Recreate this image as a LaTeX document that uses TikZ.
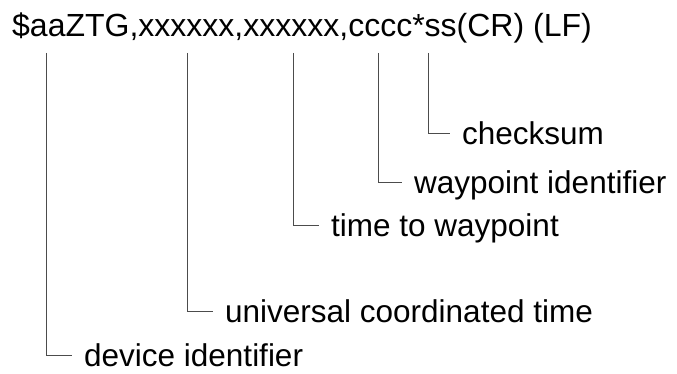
\documentclass[tikz,border=0pt]{standalone}
\usepackage{fontspec}
\setmainfont{Liberation Sans}
\usetikzlibrary{positioning}

\begin{document}
\begin{tikzpicture}[x=1pt, y=-1pt,
    lead/.style={draw=black!70, line width=0.9pt},
    lbl/.style={anchor=base west, inner xsep=12pt, inner ysep=0pt,
                text height=22pt, text depth=0pt,
                font=\fontsize{31.5}{38}\selectfont}]
  \useasboundingbox (0,0) rectangle (677,374);
  % Sentence
  \node[lbl, inner xsep=0pt, anchor=base west,
        font=\fontsize{32}{38}\selectfont] (msg) at (12,36.5)
    {\$aaZTG,xxxxxx,xxxxxx,cccc*ss(CR) (LF)};
  % Field positions
  \coordinate (dev)  at (46,53);
  \coordinate (utc)  at (187.5,53);
  \coordinate (ttw)  at (293,53);
  \coordinate (wpid) at (378.5,53);
  \coordinate (cks)  at (428,53);
  % Labels
  \node[lbl] (devl)  at (72,366)  {device identifier};
  \node[lbl] (utcl)  at (213,322) {universal coordinated time};
  \node[lbl] (ttwl)  at (319,236.5) {time to waypoint};
  \node[lbl] (wpidl) at (402,193.5) {waypoint identifier};
  \node[lbl] (cksl)  at (450,144.5) {checksum};
  % Leaders
  \draw[lead] (dev)  |- (devl.west);
  \draw[lead] (utc)  |- (utcl.west);
  \draw[lead] (ttw)  |- (ttwl.west);
  \draw[lead] (wpid) |- (wpidl.west);
  \draw[lead] (cks)  |- (cksl.west);
\end{tikzpicture}
\end{document}
